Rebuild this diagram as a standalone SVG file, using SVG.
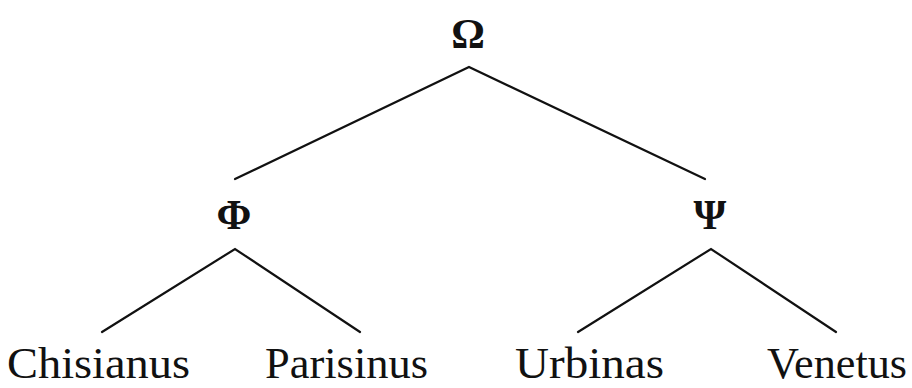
<svg xmlns="http://www.w3.org/2000/svg" width="912" height="388" viewBox="0 0 912 388">
<style>
.g{font-family:"Liberation Serif","Times New Roman",serif;font-weight:bold;font-size:42px;fill:#111;text-anchor:middle}
.l{font-family:"Liberation Serif","Times New Roman",serif;font-size:44px;fill:#111;text-anchor:middle}
.e{fill:none;stroke:#111;stroke-width:2.2;stroke-linecap:round;stroke-linejoin:miter}
</style>
<rect width="912" height="388" fill="#fff"/>
<g id="connectors">
<polyline class="e" points="235,179 469,67 705,179"/>
<polyline class="e" points="102,332 235,249 360,332"/>
<polyline class="e" points="578,332 711,249 836,332"/>
</g>
<g id="omega"><text class="g" x="468" y="48">Ω</text></g>
<g id="phi"><text class="g" x="234" y="229">Φ</text></g>
<g id="psi"><text class="g" x="710" y="229">Ψ</text></g>
<g id="chisianus"><text class="l" x="98.5" y="378" textLength="183" lengthAdjust="spacingAndGlyphs">Chisianus</text></g>
<g id="parisinus"><text class="l" x="346.5" y="378" textLength="163" lengthAdjust="spacingAndGlyphs">Parisinus</text></g>
<g id="urbinas"><text class="l" x="589.5" y="378" textLength="149" lengthAdjust="spacingAndGlyphs">Urbinas</text></g>
<g id="venetus"><text class="l" x="837" y="378" textLength="140" lengthAdjust="spacingAndGlyphs">Venetus</text></g>
</svg>
